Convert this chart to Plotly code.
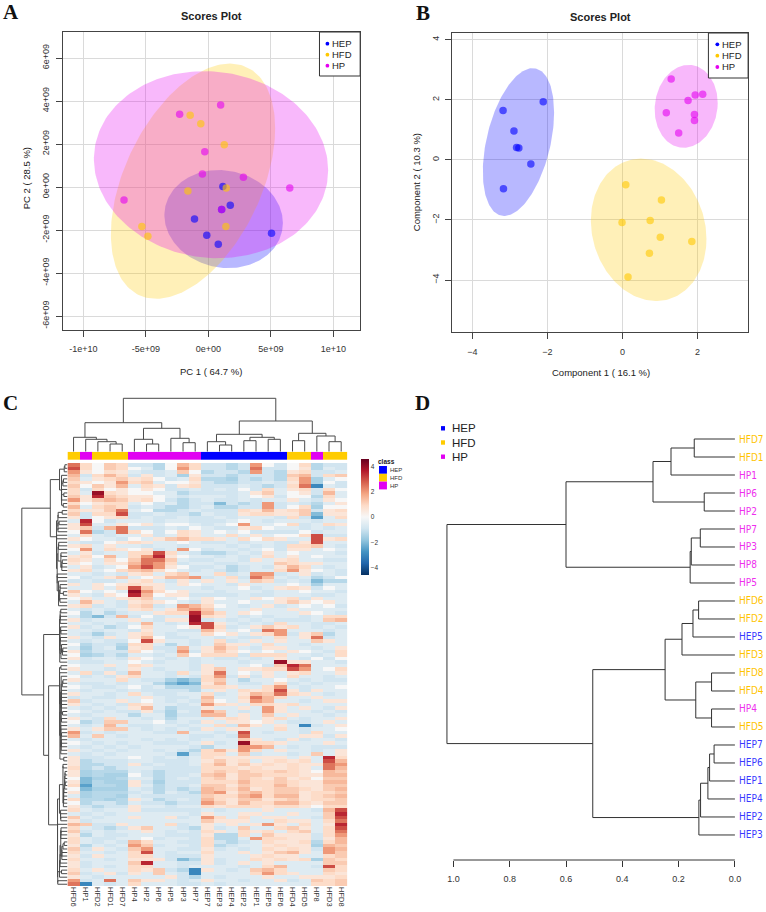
import numpy as np
import plotly.graph_objects as go

W, H = 766, 912
def fx(p): return p / W
def fy(p): return 1 - p / H

FONT = "Liberation Sans, Arial, Helvetica, sans-serif"
SERIF = "Liberation Serif, Times New Roman, serif"
NARROW = "Liberation Sans Narrow, Arial Narrow, DejaVu Sans Condensed, sans-serif"

# ---------------- data ----------------
groups = ["HEP", "HFD", "HP"]
group_rgb = {"HEP": (0, 0, 255), "HFD": (255, 200, 0), "HP": (229, 0, 240)}

# Panel A: PCA scores
pca_hep_x = [1.16e9, 1.75e9, 1.06e9, -1.11e9, -0.13e9, 0.79e9, 5.05e9]
pca_hep_y = [0.02e9, -0.85e9, -1.04e9, -1.49e9, -2.24e9, -2.66e9, -2.15e9]
pca_hfd_x = [-1.46e9, -0.61e9, 1.27e9, -1.64e9, 1.43e9, 1.40e9, -5.32e9, -4.84e9]
pca_hfd_y = [3.34e9, 2.94e9, 1.97e9, -0.19e9, -0.05e9, -1.84e9, -1.84e9, -2.29e9]
pca_hp_x = [-2.30e9, 0.98e9, -0.29e9, -0.48e9, 2.80e9, 6.51e9, -6.75e9, 1.06e9]
pca_hp_y = [3.39e9, 3.81e9, 1.64e9, 0.60e9, 0.45e9, -0.05e9, -0.60e9, -1.04e9]
# ellipse: centre x, centre y, half-width, half-height, correlation
pca_ellipses = {"HEP": (1.22e9, -1.49e9, 4.74e9, 2.28e9, -0.08),
                "HFD": (-1.23e9, 0.27e9, 6.57e9, 5.47e9, 0.45),
                "HP": (0.21e9, 1.04e9, 9.37e9, 4.35e9, -0.06)}
pca_xticks = [-1e10, -5e9, 0, 5e9, 1e10]
pca_xticktext = ["-1e+10", "-5e+09", "0e+00", "5e+09", "1e+10"]
pca_yticks = [-6e9, -4e9, -2e9, 0, 2e9, 4e9, 6e9]
pca_yticktext = ["-6e+09", "-4e+09", "-2e+09", "0e+00", "2e+09", "4e+09", "6e+09"]

# Panel B: PLS-DA scores
pls_hep_x = [-3.18, -2.11, -2.89, -2.82, -2.76, -2.44, -3.17]
pls_hep_y = [1.64, 1.93, 0.96, 0.41, 0.39, -0.14, -0.96]
pls_hfd_x = [0.09, 1.04, -0.01, 0.74, 1.01, 1.85, 0.72, 0.15]
pls_hfd_y = [-0.83, -1.34, -2.09, -2.02, -2.58, -2.72, -3.11, -3.90]
pls_hp_x = [1.30, 1.75, 1.94, 2.14, 1.17, 1.92, 1.92, 1.50]
pls_hp_y = [2.69, 1.97, 2.16, 2.18, 1.57, 1.51, 1.31, 0.89]
pls_ellipses = {"HEP": (-2.77, 0.59, 0.95, 2.46, 0.40),
                "HFD": (0.70, -2.33, 1.54, 2.37, -0.13),
                "HP": (1.70, 1.78, 0.84, 1.38, 0.08)}
pls_xticks = [-4, -2, 0, 2]
pls_yticks = [-4, -2, 0, 2, 4]

# Panel C: heatmap
heat_cols = ["HFD6", "HP1", "HFD2", "HFD1", "HFD7", "HP4", "HP2", "HP6", "HP5", "HP3", "HP7",
             "HEP7", "HEP3", "HEP4", "HEP2", "HEP1", "HEP5", "HEP6", "HFD4", "HFD5", "HP8", "HFD3", "HFD8"]
heat_rows = [
 [2.5,.9,0,1.2,.9,-.9,-.9,-1.3,0,1.5,.9,-.9,-.9,-1.3,-.9,2,0,-.9,0,.9,-1.3,-.9,-.9],
 [3,.9,0,1.2,.9,0,-.6,-1.3,0,2,.9,-.9,-.9,-1.3,-.9,2.5,-.9,-.9,0,.6,-1.3,-.6,-.9],
 [2,.6,0,.8,.6,-.6,-.9,-.9,-.6,1.2,0,-1.3,-.9,-.9,-1.3,2,-.9,-1.3,.6,.9,-.9,-.9,-.6],
 [1.5,-.9,.9,1.5,.9,-.9,.6,-.9,-.6,-1.5,.6,-.9,-.9,-1.3,-.9,-.9,-.9,-1.3,1.2,1.5,-.9,.9,1.2],
 [1.2,-.6,.6,.9,1.2,.6,.9,0,-.9,-.6,.9,-1.3,-1.3,-1.5,-.9,-1.3,-.9,-1.3,.9,2,-1.5,-.6,0],
 [.9,.6,0,.6,2,.9,1.2,-.6,0,0,.6,-.9,-1.3,-1.3,-.9,-.9,-.6,-.9,.6,2,-1.5,0,-.9],
 [1.2,0,1.2,.6,1.5,-.6,.9,.6,-.9,.6,.9,-.9,-.9,-.9,-.6,-.9,-1.3,-.9,.9,2.5,-3,-.6,-.9],
 [.9,-.9,.9,0,.6,0,.6,0,-.9,-.9,-.6,-.9,-.6,-.9,0,-.9,.9,-.6,.6,.9,-.9,.9,0],
 [.9,-.6,4,.9,.6,0,0,-.6,-.6,-1.3,-.9,-.9,-.9,-.9,-.6,.6,1.2,-.6,0,.6,-.9,1.5,-.6],
 [1.2,.6,3.5,1.2,.9,.6,.6,0,-.6,-.9,-.6,-.6,-.6,-.9,-.6,0,.6,-.9,0,0,-1.3,.9,-.6],
 [2,.6,1.2,1.5,1.2,.6,.9,0,-.9,-1.3,-.9,-.6,-.9,-.9,-.6,-.9,-.6,-.6,.6,-.6,-.9,.6,0],
 [.9,0,.6,.9,.9,-.6,0,-.9,-.6,-1.3,-.9,-.9,-2,-.9,-1.3,-.9,2,-.9,-.6,-.9,-1.3,-.6,.6],
 [1.5,-.6,.9,1.2,.9,-.9,-.6,-.9,-1.3,-1.3,-.9,-.6,-1.3,-1.3,-.9,-.9,2,-.9,0,.9,-1.5,0,0],
 [.9,.6,.6,1.2,2.5,-.6,0,-1.3,-1.3,-.9,-.6,-.9,-.9,-.9,.9,.6,1.5,.6,.9,1.2,-.9,.6,.9],
 [1.2,-.9,.9,.9,3,-.9,-.9,-.6,-.9,-.9,-1.3,-.6,-.9,-.9,.6,.9,.9,.6,.6,1.2,-2,.6,.6],
 [.6,-.9,0,.6,.9,-.9,-.6,-.9,-.9,-.6,-.9,-.9,-.6,-.9,-.6,-.6,-.6,-.9,.9,-.9,-2.5,-.6,.9],
 [-.6,3.5,0,-.9,-.6,-.6,-.6,-.9,-.6,-.6,-.9,-.9,-.9,-.6,0,-.6,-.9,-.6,-.6,-.6,-.9,-.6,-.6],
 [.6,3,-.6,-.6,.6,0,.6,-.6,0,0,-.6,-.9,-.6,0,2,-.6,-.6,0,.9,-.9,-.6,.9,.6],
 [.6,1.2,-.9,1.5,2.5,-.9,-.9,-.9,-.6,-.9,0,-.6,-.9,-.9,.6,.9,0,-.6,-.6,-.9,-.6,-.9,-.6],
 [0,2.5,-1.3,-.9,2.5,.9,0,-.9,0,.9,.6,-.6,0,-.6,0,-.9,-.9,-.9,-.9,0,-.9,-.6,-.6],
 [-.6,.9,-.6,-.9,-.6,-.6,.6,-.9,-.6,.9,.6,-.6,-.6,.9,-.6,.6,-.6,0,0,.9,3,-.9,-.9],
 [.6,0,-.6,-.6,-.9,0,-.6,.6,1.2,1.5,.9,.9,.6,-.6,.9,0,.9,.6,-.6,-.6,3,.6,.9],
 [-.6,-.9,-.9,0,.6,.9,.6,-.6,-.6,0,-.6,-.9,-.9,-.6,-.9,-.6,-.6,-.9,-.9,.6,3,-.6,-.6],
 [.6,.9,-.6,.6,-.6,-.6,-.9,-.6,-.6,-.9,-.6,-.6,-.6,-.9,-.6,-.9,-.6,-.9,.9,.9,1.2,-.6,-.9],
 [0,2,-.6,.9,.6,0,.6,-.9,-.6,2,0,-.9,-.6,-.6,-.9,-.6,0,-.9,.6,.6,-.6,0,-.6],
 [-.6,.6,-.9,-.6,-.6,.9,.9,3,.9,-.6,-.9,-1.3,-1.3,-.9,-.6,-.9,.6,-.6,0,-.6,-.6,-.6,-.9],
 [.6,.9,0,1.5,-.6,.9,2,3.5,.6,0,-.6,-.6,-.9,-.6,-.9,-.6,.9,-.6,.6,-.6,0,-.6,-.6],
 [.9,.6,-.6,.9,0,1.2,2.5,2.5,1.2,-.6,-.9,-.9,-.6,-.6,-.9,.6,-.6,.6,.9,-.6,-.6,-.9,-.9],
 [.6,0,-.6,.6,.6,1.5,2.5,2,.9,-.9,-.6,-.6,-.9,-.9,-.6,-.6,-.6,1.2,.9,.6,.6,-.6,-.6],
 [-.6,.6,-.9,-.6,0,2,3,2,.6,0,-.9,-.9,-.6,-1.3,-.9,-.6,-.9,.6,1.5,.9,-.6,-.9,-.6],
 [.6,.9,-.6,0,.9,1.2,1.5,.9,0,-.6,-.9,-.6,-.9,-1.3,-.9,-.6,-.6,.9,2,.6,0,-.6,-.9],
 [-.6,-.6,-.9,-.6,-.9,.6,.9,-.6,.9,1.2,-.6,-.6,.9,-.9,-.6,2,2,-.9,-.6,.6,-.9,-.6,-.9],
 [0,-.9,-.6,.6,1.2,-.6,0,.6,1.5,1.5,2,-.9,-.6,.9,-.9,2.5,1.5,-.6,-.9,-.6,-1.3,-.9,0],
 [-.9,-.6,-.9,-.9,-.6,.6,.9,-.6,-.9,.6,-.6,.6,-.6,.6,-.6,1.2,.9,-.9,-.6,-.9,-2,-1.3,-1.3],
 [.6,-.6,.6,0,.6,.9,.6,.6,-.6,.6,0,-.6,-.6,-.9,.6,-.6,-.6,-.6,0,-.6,-1.5,-.6,-.6],
 [-.6,-.6,.6,-.6,.9,3,1.2,.6,-.6,-.6,-.6,-.9,-.6,-.6,0,-.9,-.6,.6,.9,.6,-.9,0,-.6],
 [1.2,0,-.6,0,-.6,4,2,.9,0,.6,-.6,-.6,-.9,-.6,-.6,-.6,-.9,-.6,-.6,0,-.6,-.6,-.9],
 [.6,-.6,-.9,.6,0,3.5,1.5,0,.6,.6,-.9,-.9,-.9,-.9,-.6,-.9,-.9,-.6,-.6,-.6,-.9,-.9,-.6],
 [0,.6,-.6,-.6,.6,.9,1.2,-.6,-.6,0,-.6,.6,0,-.6,-.6,.6,0,.6,.9,-.9,.6,-.6,-.6],
 [-.6,1.5,.6,-.6,-.9,.6,.9,.6,0,-.6,-.9,.6,-.6,-.6,0,-.6,-.6,.6,1.2,.6,0,.6,-.6],
 [.6,.9,-.9,-.6,-.9,.9,1.2,-.9,-.6,2,1.5,.9,0,-.6,-.9,-.6,.6,-.9,-.6,0,-.6,0,-.9],
 [-.6,-.9,-.6,-.9,-.6,.6,.9,-.6,.6,1.5,2,1.2,-.6,-.6,-.6,.6,-.6,-.6,.6,-.6,-.6,-.6,-.6],
 [0,-1.3,-.6,-1.3,-.9,-.6,-.6,.6,.9,.9,3.5,1.5,.9,-.6,.6,0,-.6,-.6,-.6,.6,0,-.6,-.9],
 [-.6,-1.3,-2,-.9,1.5,-.9,0,-.9,-.6,-.6,4,.9,.6,-.6,-.9,-.6,-.9,-.6,-.6,-.9,-.6,.9,.9],
 [.6,-.9,-.6,-.6,-.6,.6,-.6,-.9,.6,.6,4,-.9,-.6,-.9,-.6,-.9,-.6,-.9,-.9,-.9,-.6,1.2,1.5],
 [-.6,-.6,-.9,-.6,-.9,-.6,1.5,-.6,-.9,-.6,3.5,3,.6,-.6,-.9,-.6,-.9,.9,-.6,-.6,-.9,-.9,-.6],
 [.6,-.9,-.6,-1.3,-.9,0,.9,-.6,-.6,0,.6,3,.9,-.9,-.6,.6,1.2,.6,.9,-.6,-.9,-.6,-.9],
 [-.6,-.6,-.9,-.6,-.6,-.9,.6,-.6,-.6,-.9,-.9,1.5,.6,-.6,0,-.9,2.5,2,-.6,-.6,-.6,-.9,-.6],
 [-.6,-.9,-1.5,-.9,-.6,.6,.9,-.6,-.9,-.6,-.6,.9,0,.6,-.6,.6,.9,2,-.9,.6,1.2,-1.3,-.6],
 [.6,-.6,-.9,.6,-.6,.6,1.5,0,-.9,-.9,-.6,-.6,-.9,-.6,-.9,-.9,-.6,.9,-.6,.6,2.5,-.9,-.6],
 [-.6,-.9,-.6,-.9,-.9,0,3,.6,-.6,-.6,-.9,-.6,.9,-.9,-.6,.6,-.6,.6,-.6,-.6,1.2,.6,-.6],
 [0,-1.3,-.9,-.9,-1.3,.9,.9,-.6,-1.3,-.6,-.9,-.6,1.2,.6,.6,-.6,.9,-.6,-.6,-.9,-.6,-.6,-.6],
 [-.6,-1.5,-.9,-.6,-1.5,.6,.9,-.9,-.9,1.5,-.6,.6,1.5,.9,-.6,-.9,.6,.6,-.6,-.6,-.9,-.6,.6],
 [.6,-1.3,-.9,-.9,-.9,.9,0,-.6,-.9,2,-.9,.6,1.2,.6,0,-.6,0,-.6,.6,0,-.6,-.9,.9],
 [0,-1.5,-1.3,-.9,-1.3,-.6,-.6,-.9,-.6,1.2,0,.9,.9,.9,-.9,.9,.9,.9,-.6,-.6,-.9,-.6,.9],
 [.6,-.9,-.6,-.6,-.9,.6,0,-.6,-.9,-.6,-.9,-.6,-.9,-.9,-.6,-.9,-.6,.6,-.6,-.9,0,-.9,0],
 [-.6,-.9,-.9,-.6,-.6,0,-.6,-.9,-.6,-.6,-.9,-.6,-.6,-.6,-.9,-.6,-.6,4,.6,.6,-.6,-.6,-.9],
 [0,-.6,-.6,.6,-.6,.9,.6,-.6,-.6,-.6,-.9,.6,-.6,-.6,-.6,0,-.9,1.2,3.5,2.5,-.6,-.6,-.6],
 [.6,-.6,-.6,-.9,-.6,.6,-.6,-.9,-.6,-.6,-.9,.6,1.2,-.6,.6,.6,.9,.9,3,2,-.6,0,.9],
 [-.6,.9,-.9,.6,-.9,1.5,-.6,-.6,-.9,.9,-.6,.6,2.5,-.6,0,-.6,.6,-.6,.6,.9,-.6,-.6,.6],
 [0,-.9,-.6,-.9,.6,.9,-.6,-.6,-.9,-.6,-.9,.9,2,-.9,.6,-.9,.6,-.6,.9,-.6,-.6,-.9,-.6],
 [.6,-.6,-.6,-.6,.9,-.6,-.9,-.9,-1.5,-2,-1.5,.9,1.2,-.6,-1.3,-.6,-.6,0,-.6,-.9,-.6,-.9,-.9],
 [-.6,-.9,-.9,-.6,-.9,-.6,-.6,-1.3,-2,-2.5,-2,.6,1.5,-.6,-.9,-.9,-.6,.9,-.9,-.6,-.9,-.6,-.6],
 [0,-.6,-.9,-.9,-.6,0,-.9,-.6,-1.3,-1.3,-1.3,.9,.9,.6,-.6,-.6,.9,2,-.6,-.9,-.6,-.6,0],
 [-.6,-.9,-.6,-.6,-.9,-.6,-.9,-.9,-.9,-.9,-1.3,-.6,.6,-.6,.9,.6,.9,3,.6,-.9,.6,-.6,-.6],
 [.6,-.6,-.6,-.9,-.6,.9,-.6,-.9,-.9,-.6,-.6,.9,-.9,-.6,.6,1.5,1.2,2.5,.9,.6,-.6,-.9,-.6],
 [-.9,-.6,-.9,-.9,-.6,-.6,.6,-.6,-.9,-.9,-.6,1.5,-.6,-.6,.9,2.5,1.5,.9,-.6,-.6,.6,-.6,-.6],
 [1.2,-.9,-.6,-.6,.6,-.6,0,-.6,-.9,-.6,-.9,1.2,0,-.6,.6,2,1.5,-.6,-.6,-.9,-.6,.6,.6],
 [.6,-.6,-.9,-.6,-.9,.9,.6,-.6,-.6,-.9,-.6,2,.9,.6,-.6,.9,.9,.6,.9,-.6,-.6,-.6,-.6],
 [-.6,-.9,-.6,-.9,-.6,.6,1.5,-.6,-1.3,-.9,-.9,.6,-.6,-.6,.6,-.6,2,.6,-.6,.6,-.6,-.9,.6],
 [0,-.6,-.9,-.6,-.9,-.9,.6,-.9,-1.5,-.6,-.9,2,1.2,-.6,-.9,-.6,2,.6,-.6,-.6,-.9,-.6,-.9],
 [-.6,-.9,-.6,-.6,-.6,-1.3,-.6,-.6,-1.5,-.9,-.9,1.5,1.5,-.6,.6,-.6,1.2,-.6,.6,-.6,-.6,-.9,-.6],
 [.6,-.6,-.9,.9,-.6,-.6,-.9,-.6,-1.3,-.6,-.6,-.6,.6,.9,.6,-.6,.6,.9,-.6,-.9,-.6,-.6,.6],
 [0,-1.3,-.9,1.2,1.2,-.6,-.6,0,-.9,-.6,-.9,.6,-.6,.6,.6,0,.6,-.6,-.9,-.9,-.6,.6,-.6],
 [-.6,-.9,-.6,1.5,-.6,-.9,-.9,-.6,-.6,-.9,-.6,-.6,.9,-.9,1.5,.6,-.6,.6,-.6,-3,-.9,-.6,.6],
 [.6,-.6,.6,1.2,1.2,-.6,-.9,-.6,-.9,-.6,-.9,.6,-.6,.6,.6,-.6,-.6,.9,-.6,-.9,-.6,-.6,0],
 [2,-.9,-.6,-.9,-.6,-.6,-.6,-.9,-.9,1.5,-.6,-.6,-.9,-.6,3,-.6,-.9,-.6,-.6,-.9,.9,-.6,-.6],
 [1.5,-.6,1.2,-.6,-.9,-.6,-.6,-.6,-.6,-.6,-.9,-.9,-.6,-.9,2.5,-.6,-.6,-.6,-.6,.6,.6,-.9,.6],
 [-.6,-.9,-.6,-.6,-.6,-.6,-.9,-.6,-.9,-.6,-.9,-.6,-.6,-.6,1.2,.6,-.6,-.9,.6,-.9,-.6,-.6,-.9],
 [0,-.6,-.9,-.6,-.9,-.6,-.6,-.9,-.9,-.9,-.6,.6,-.9,-.6,4,.9,.9,.6,-.6,-.6,-.6,.6,-.6],
 [-.6,-.9,-.6,-.9,-.6,-.9,-.6,-.6,-.6,-.6,-.9,-1.3,-.6,-.6,2,2,1.5,-.6,-.9,-.6,-.9,-.9,-.9],
 [.6,-.6,-.9,-.6,-.9,-.6,-.6,-.9,-.6,-.9,-1.3,.9,1.5,.6,2,.9,-.6,.6,-.6,-.6,-.9,-.6,.6],
 [-.6,-.9,-.6,-.9,-.6,-.6,-.6,-.6,-.9,-2.5,-.9,.9,.9,-.6,1.2,-.9,-.6,-.6,-.9,-.6,1.2,-.6,.6],
 [.6,-.9,-.9,-.6,-.6,0,-.6,-.9,-.6,-.9,-.6,.9,.6,.6,.6,.6,.6,.6,-.6,.6,-.6,3.5,.9],
 [.6,-1.3,-.9,-.9,-.9,-.6,-.6,-.9,-.9,-.9,-.6,.6,1.2,.6,.9,-.6,.6,.9,.6,.9,-.6,3,1.5],
 [.6,-1.3,-1.3,-.9,-.9,.6,-.9,-.6,-.9,-.9,-.6,.9,1.5,.6,1.2,.6,.9,.6,.9,.6,.6,2.5,2],
 [.9,-1.3,-.9,-1.3,-.9,-.6,-.6,-.9,-.9,-.9,-.9,.9,.9,.9,.6,.9,.6,.6,.9,.6,-.6,2.5,1.5],
 [.6,-1.5,-1.3,-1.3,-1.3,-.6,-.9,-1.3,-.9,-.9,-.9,.9,1.2,.9,1.2,.9,.9,1.2,.9,.6,0,1.5,1.2],
 [.6,-1.5,-1.3,-1.5,-1.5,0,-.9,-1.3,-.9,-.9,-.6,1.2,1.5,.6,1.2,1.2,.9,.9,.9,.6,.6,1.5,1.5],
 [0,-2,-1.5,-1.5,-1.3,-.6,-.6,-1.3,-.9,-.6,-.9,.9,1.2,.6,1.2,.9,.6,1.2,.6,.9,0,1.2,1.2],
 [.6,-2,-1.3,-1.5,-1.5,.6,-.9,-1.5,-.9,-.9,-.9,.9,.9,.9,1.5,.9,.9,1.2,.9,.6,.6,1.5,1.5],
 [.9,-2.5,-1.3,-1.3,-1.5,.6,-.6,-1.3,-.9,-.9,-.6,1.2,1.2,.6,1.2,.9,.9,1.5,.9,.6,.6,1.2,1.2],
 [0,-2,-1.5,-1.5,-1.5,-.6,-.9,-1.3,-.9,-1.3,-.9,1.5,1.2,.9,1.5,.6,.9,1.2,1.2,.9,.6,1.2,1.5],
 [.6,-1.5,-1.3,-1.3,-1.3,-.9,-.6,-1.3,-.6,-.9,-1.3,1.5,2,.6,1.2,1.5,.9,1.2,1.2,.6,.9,.9,1.2],
 [-.6,-1.5,-1.3,-1.3,-1.5,-.6,-.9,-.9,-.9,-.9,-.9,1.2,.9,.9,1.5,2,.9,1.5,1.5,.6,.9,1.2,1.5],
 [.9,-1.3,-1.3,-1.5,-1.3,.6,-.6,-1.3,-.9,-.6,-.9,1.5,.9,.6,1.2,1.2,.6,.9,1.2,.6,.9,.9,1.2],
 [0,-1.3,-.9,-.9,-1.3,-.6,-.9,-.9,-1.3,-.9,-.9,2,1.2,.6,1.5,.9,.9,1.5,1.5,.9,.6,1.2,1.2],
 [.6,-.9,-1.3,-.9,-.9,.6,-.6,-.6,-.9,-.6,-.6,.9,.6,.9,.9,.9,.6,.9,.9,.6,0,.9,.9],
 [.9,-.6,-.9,-.6,-.6,.6,-.9,-.9,-.9,-.9,-.9,-.6,-.9,-.6,-.6,-.6,.6,-.6,-.6,-.6,-.9,1.5,3],
 [-.6,-.9,-.6,-.9,-.6,-.6,-.6,-.6,-.6,-.6,-.9,.6,-.6,-.6,.6,.6,-.6,-.6,.6,-.6,-.6,1.2,3.5],
 [1.2,-.6,-.9,-.6,-.6,.6,-.6,-.6,.6,-.9,-.6,2,.9,-.6,.9,-.6,.6,.6,-.6,-.6,-.9,1.2,3],
 [.6,-.9,-.6,-.6,-.6,-.6,-.6,-.6,-.6,-.6,-.6,1.2,.6,.6,.6,-.6,-.6,.9,.6,.6,-.6,.9,2.5],
 [1.5,1.2,-.9,-.9,.6,-.6,-.6,-.6,.9,-.9,-.6,.6,-.6,.6,-.6,.6,2,.6,-.6,.9,-.6,.6,3.5],
 [.9,-.6,-.9,-1.3,-.9,.6,1.2,-.6,-.6,-.9,-1.3,.6,-.9,-.6,1.2,-.6,-.6,.9,1.2,.6,-.6,.9,3],
 [1.2,-.9,-.6,-.9,-.6,-.6,.6,-.6,-.9,-.6,-.9,.9,.6,-.6,.9,.6,.9,-.6,.9,1.2,-.6,.9,2.5],
 [.6,-1.3,-.6,-.9,-.9,-.6,-.6,-.6,-.9,-.9,-.9,.6,-1.3,-1.3,.9,-.6,1.2,.6,.6,.6,-.9,.9,2],
 [.9,-.6,-.9,-.9,-.6,-.6,0,-.9,-.6,-.6,-.9,.9,-1.3,-1.3,-.6,2,.9,.9,.6,.6,-.9,.6,1.5],
 [.9,-.6,-.9,-.6,-.9,1.5,.9,-.6,-.6,-.9,-.9,.9,-.9,-1.3,-.9,-.6,.9,.6,.6,.9,-1.3,.9,1.5],
 [.6,-1.3,-.6,-.9,-.6,2,1.2,-.9,-.6,-.6,-.9,.9,-1.3,-.9,-.6,-.6,.6,.9,.6,.6,-1.5,1.5,1.2],
 [1.2,-.9,.6,-.6,-.9,1.2,2,-.6,-.6,-.9,-.9,.6,-.9,-.6,-.9,-.6,.9,.6,.9,.6,-.9,2,1.5],
 [.9,-.6,-.6,-.9,-.6,.9,3,-.6,-.9,-.6,-.6,.9,-.6,-.6,.6,-.6,.6,1.2,1.5,.6,-.6,2,1.2],
 [.6,-.9,.6,-.6,-.6,.9,.9,-.6,-.9,-.9,-.9,.6,-.6,-.6,-.6,.6,.9,.6,.6,-.6,-.6,.9,1.2],
 [.9,-.6,-.6,-.9,-.6,.6,.6,.6,-.9,-2,-1.3,.6,-.9,-.6,-.6,.9,.6,.9,.6,.9,-1.5,1.2,.9],
 [.6,-.9,-.6,-.6,-.6,1.2,3.5,-.6,-.6,-.9,-.9,.6,-.9,-.6,.6,-.6,.6,-.6,-.6,-.6,-.6,1.2,1.2],
 [.6,-.9,-.6,-.9,-.6,.9,.9,-.6,-.6,-.9,-.6,-.6,-.6,-.6,-.9,-.6,.9,1.5,-.6,-.6,-.9,3,.9],
 [.9,-.6,.6,-.6,-.6,.9,.6,1.2,-.9,-1.3,-3,.6,-.6,-.9,-.6,1.2,1.5,.9,-.6,-.6,-.6,1.2,.9],
 [1.2,-.9,-.6,.6,-.9,.6,-.6,1.2,-.6,-.9,-3,-.6,-.6,-.6,-.6,.9,2,.9,.6,-.6,-.6,.9,.6],
 [.6,-.6,-.9,-.6,-.6,-.6,-.6,-.6,.6,-.9,-1.3,-.6,-.9,-.6,-.6,-.6,.6,-.6,-.6,.6,.6,.6,.9],
 [2,-.9,-.6,2.5,-.6,1.2,.6,.6,-.6,-.9,-.6,.6,-.6,-.6,-.9,-.6,-.6,.6,-.9,-.6,1.2,.9,1.2],
 [2.5,-3,-.6,-.9,-.6,.9,-.6,-.6,-.6,-.9,-.9,-.6,-.9,-.6,-.6,-.6,-.6,-.6,-.6,-.6,.9,.9,1.2],
]
heat_ticks = [-4, -2, 0, 2, 4]

# column dendrogram (height, left, right); heights
col_tree = (53.4,
    (29.0,
        (14.4, "HFD6", (12.4, "HP1", (10.0, "HFD2", (7.7, "HFD1", "HFD7")))),
        (23.4, (12.4, "HP4", (7.7, "HP2", "HP6")), (13.4, "HP5", (9.0, "HP3", "HP7")))),
    (30.7,
        (17.4, (10.0, "HEP7", (6.7, "HEP3", "HEP4")),
               (14.4, (11.0, "HEP2", "HEP1"), (12.4, "HEP5", "HEP6"))),
        (18.4, (11.0, "HFD4", "HFD5"), (15.7, "HP8", (10.0, "HFD3", "HFD8")))))
# row dendrogram: main splits, each ("grp", first_row, last_row, height)
row_tree = (46.0,
    (17.3, ("grp", 0, 12, 8.0), ("grp", 13, 40, 11.0)),
    (24.0, ("grp", 41, 56, 8.0), (19.0, ("grp", 57, 84, 8.0), ("grp", 85, 119, 10.0))))

# Panel D: sample dendrogram
d_tree = (1.023,
    (0.600,
        (0.291, (0.227, (0.1445, "HFD7", "HFD1"), "HP1"), (0.109, "HP6", "HP2")),
        (0.159, (0.155, (0.123, "HP7", "HP3"), "HP8"), "HP5")),
    (0.505,
        (0.248,
            (0.188, (0.149, (0.129, "HFD6", "HFD2"), "HEP5"), "HFD3"),
            (0.139, (0.083, "HFD8", "HFD4"), (0.083, "HP4", "HFD5"))),
        (0.128, (0.122, (0.096, (0.090, (0.074, "HEP7", "HEP6"), "HEP1"), "HEP4"), "HEP2"), "HEP3")))
d_ticks = [1.0, 0.8, 0.6, 0.4, 0.2, 0.0]

# ---------------- helpers ----------------
def rgba(g, a):
    r, gg, b = group_rgb[g]
    return f"rgba({r},{gg},{b},{a})"

def cls_of(name):
    if name.startswith("HEP"):
        return "HEP"
    if name.startswith("HFD"):
        return "HFD"
    return "HP"

def ellipse_xy(p, n=200):
    cx, cy, sx, sy, rho = p
    t = np.linspace(0, 2 * np.pi, n)
    x = cx + sx * np.cos(t)
    y = cy + sy * (rho * np.cos(t) + np.sqrt(1 - rho ** 2) * np.sin(t))
    return x, y

heat = np.array(heat_rows, dtype=float)

def adj_cluster(start, end, target):
    cl = [dict(pos=float(i), h=0.0, segs=[], mem=[i]) for i in range(start, end + 1)]
    while len(cl) > 1:
        best = None
        for k in range(len(cl) - 1):
            d = np.linalg.norm(heat[cl[k]["mem"]].mean(0) - heat[cl[k + 1]["mem"]].mean(0))
            if best is None or d < best[0]:
                best = (d, k)
        d, k = best
        a, b = cl[k], cl[k + 1]
        h = max(d, a["h"], b["h"])
        seg = [(a["h"], a["pos"]), (h, a["pos"]), (h, b["pos"]), (b["h"], b["pos"])]
        cl[k:k + 2] = [dict(pos=(a["pos"] + b["pos"]) / 2, h=h, segs=a["segs"] + b["segs"] + [seg],
                            mem=a["mem"] + b["mem"])]
    c = cl[0]
    s = target / c["h"]
    return c["pos"], target, [[(hh * s, p) for hh, p in seg] for seg in c["segs"]]

def layout_tree(node, pos_of):
    if isinstance(node, str):
        return float(pos_of[node]), 0.0, []
    if node[0] == "grp":
        return adj_cluster(node[1], node[2], node[3])
    h, a, b = node
    pa, ha, sa = layout_tree(a, pos_of)
    pb, hb, sb = layout_tree(b, pos_of)
    return (pa + pb) / 2, h, sa + sb + [[(ha, pa), (h, pa), (h, pb), (hb, pb)]]

def leaves(node):
    if isinstance(node, str):
        return [node]
    return leaves(node[1]) + leaves(node[2])

def seg_xy(segs, swap):
    xs, ys = [], []
    for seg in segs:
        for hh, p in seg:
            if swap:
                xs.append(p); ys.append(hh)
            else:
                xs.append(hh); ys.append(p)
        xs.append(None); ys.append(None)
    return xs, ys

fig = go.Figure()
annotations, shapes = [], []

def ann(x, y, text, size, color="#222", family=FONT, xanchor="center", yanchor="middle", angle=0, bold=False):
    if bold:
        text = f"<b>{text}</b>"
    annotations.append(dict(x=fx(x), y=fy(y), xref="paper", yref="paper", text=text, showarrow=False,
                            xanchor=xanchor, yanchor=yanchor, textangle=angle, borderpad=0,
                            font=dict(family=family, size=size, color=color)))

# ---------------- Panel A & B ----------------
score_sets = [
    ("x", "y", pca_ellipses, {"HEP": (pca_hep_x, pca_hep_y), "HFD": (pca_hfd_x, pca_hfd_y), "HP": (pca_hp_x, pca_hp_y)}),
    ("x2", "y2", pls_ellipses, {"HEP": (pls_hep_x, pls_hep_y), "HFD": (pls_hfd_x, pls_hfd_y), "HP": (pls_hp_x, pls_hp_y)}),
]
for xa, ya, ells, pts in score_sets:
    for g in groups:
        ex, ey = ellipse_xy(ells[g])
        fig.add_trace(go.Scatter(x=ex, y=ey, mode="lines", fill="toself", fillcolor=rgba(g, 0.28),
                                 line=dict(width=0), xaxis=xa, yaxis=ya, hoverinfo="skip"))
    for g in groups:
        fig.add_trace(go.Scatter(x=pts[g][0], y=pts[g][1], mode="markers",
                                 marker=dict(size=7.5, color=rgba(g, 0.6), line=dict(width=0)),
                                 xaxis=xa, yaxis=ya, hoverinfo="skip"))

def frame_axis(**kw):
    d = dict(showline=True, mirror=True, linecolor="#444", linewidth=1, ticks="outside", ticklen=6,
             tickcolor="#444", showgrid=True, gridcolor="#dadada", gridwidth=1, zeroline=False,
             tickfont=dict(family=FONT, size=9, color="#333"))
    d.update(kw)
    return d

# score legends
def score_legend(box, dot_x, text_x, ys):
    x0, y0, x1, y1 = box
    shapes.append(dict(type="rect", xref="paper", yref="paper", x0=fx(x0), x1=fx(x1), y0=fy(y1), y1=fy(y0),
                       line=dict(color="#333", width=1), fillcolor="white", layer="above"))
    for g, yy in zip(groups, ys):
        r = 1.9
        shapes.append(dict(type="circle", xref="paper", yref="paper", x0=fx(dot_x - r), x1=fx(dot_x + r),
                           y0=fy(yy + r), y1=fy(yy - r), line=dict(width=0),
                           fillcolor="rgb(%d,%d,%d)" % group_rgb[g], layer="above"))
        ann(text_x, yy, g, 9.5, xanchor="left")

score_legend((322, 32, 363, 76), 330, 334, [43.7, 54.7, 65.7])
score_legend((714, 33, 754, 78), 723, 727, [44.3, 55.7, 67.0])

ann(213, 16, "Scores Plot", 11, bold=True)
ann(605.5, 17.5, "Scores Plot", 11, bold=True)
ann(213, 371, "PC 1 ( 64.7 %)", 9.5)
ann(26.5, 178, "PC 2 ( 28.5 %)", 9.5, angle=-90)
ann(605.5, 372.5, "Component 1 ( 16.1 %)", 9.5)
ann(419.5, 182, "Component 2 ( 10.3 %)", 9.5, angle=-90)
for L, x, y in [("A", 11, 12), ("B", 426, 13), ("C", 11, 403), ("D", 426, 403)]:
    ann(x, y, L, 21, color="#111", family=SERIF, bold=True)

# ---------------- Panel C ----------------
rdbu = ["#053061", "#2166AC", "#4393C3", "#92C5DE", "#D1E5F0", "#F7F7F7",
        "#FDDBC7", "#F4A582", "#D6604D", "#B2182B", "#67001F"]
rdbu_scale = [[i / 10, c] for i, c in enumerate(rdbu)]
nrow, ncol = heat.shape
fig.add_trace(go.Heatmap(z=heat, x=list(range(ncol)), y=list(range(nrow)), colorscale=rdbu_scale,
                         zmin=-4.6, zmax=4.6, xaxis="x3", yaxis="y3", hoverinfo="skip",
                         colorbar=dict(x=fx(364), xanchor="left", xpad=0, y=fy(517), yanchor="middle", ypad=0,
                                       len=116, lenmode="pixels", thickness=8, thicknessmode="pixels",
                                       tickvals=heat_ticks, ticks="", outlinewidth=0,
                                       tickfont=dict(family=FONT, size=6.5, color="#333"))))

class_colors = {"HEP": "#0000FF", "HFD": "#FFCC00", "HP": "#E100F2"}
cls_idx = [groups.index(cls_of(c)) for c in heat_cols]
bar_scale = [[0, class_colors["HEP"]], [1 / 3, class_colors["HEP"]], [1 / 3, class_colors["HFD"]],
             [2 / 3, class_colors["HFD"]], [2 / 3, class_colors["HP"]], [1, class_colors["HP"]]]
fig.add_trace(go.Heatmap(z=[cls_idx], x=list(range(ncol)), y=[0], colorscale=bar_scale, zmin=0, zmax=2,
                         showscale=False, xaxis="x4", yaxis="y4", hoverinfo="skip"))

col_pos = {c: i for i, c in enumerate(heat_cols)}
_, _, csegs = layout_tree(col_tree, col_pos)
cx_, cy_ = seg_xy(csegs, swap=True)
fig.add_trace(go.Scatter(x=cx_, y=cy_, mode="lines", line=dict(color="#4a4a4a", width=1),
                         xaxis="x5", yaxis="y5", hoverinfo="skip"))
_, _, rsegs = layout_tree(row_tree, {})
rx_, ry_ = seg_xy(rsegs, swap=False)
fig.add_trace(go.Scatter(x=rx_, y=ry_, mode="lines", line=dict(color="#4a4a4a", width=1),
                         xaxis="x6", yaxis="y6", hoverinfo="skip"))

# class legend
ann(380, 462, "class", 6.5, color="#222", xanchor="left", bold=True)
for i, g in enumerate(groups):
    y0 = 466 + i * 7.8
    shapes.append(dict(type="rect", xref="paper", yref="paper", x0=fx(382), x1=fx(390), y0=fy(y0 + 7.8),
                       y1=fy(y0), line=dict(width=0), fillcolor=class_colors[g]))
    ann(392.5, y0 + 3.9, g, 6, color="#333", xanchor="left")

# ---------------- Panel D ----------------
d_order = leaves(d_tree)
d_pos = {c: i for i, c in enumerate(d_order)}
_, _, dsegs = layout_tree(d_tree, d_pos)
dx_, dy_ = seg_xy(dsegs, swap=False)
fig.add_trace(go.Scatter(x=dx_, y=dy_, mode="lines", line=dict(color="#333", width=1),
                         xaxis="x7", yaxis="y7", hoverinfo="skip"))
label_colors = {"HEP": "#3a3aff", "HFD": "#ffc400", "HP": "#ee30ee"}
for name in d_order:
    annotations.append(dict(x=0, y=d_pos[name], xref="x7", yref="y7", text=name, showarrow=False,
                            xanchor="left", yanchor="middle", xshift=3, borderpad=0,
                            font=dict(family=NARROW, size=10, color=label_colors[cls_of(name)])))
for i, g in enumerate(groups):
    yy = 428.3 + i * 14.2
    shapes.append(dict(type="rect", xref="paper", yref="paper", x0=fx(444.5), x1=fx(448.5), y0=fy(yy + 2.2),
                       y1=fy(yy - 2.2), line=dict(width=0), fillcolor=class_colors[g]))
    ann(454.5, yy, g, 11.5, color="#222", xanchor="left")
shapes.append(dict(type="line", xref="x7", yref="paper", x0=1.0, x1=0.0, y0=fy(860), y1=fy(860),
                   line=dict(color="#333", width=1)))

# ---------------- layout ----------------
hid = dict(showgrid=False, zeroline=False, showticklabels=False, ticks="", showline=False)
heat_dom_x = [fx(68), fx(350)]
heat_dom_y = [fy(886), fy(463)]
fig.update_layout(
    width=W, height=H, margin=dict(l=0, r=0, t=0, b=0), paper_bgcolor="white", plot_bgcolor="white",
    showlegend=False, hovermode=False,
    xaxis=frame_axis(domain=[fx(63), fx(363)], range=[-1.167e10, 1.214e10], tickvals=pca_xticks,
                     ticktext=pca_xticktext, anchor="y", ticklabelstandoff=4),
    yaxis=frame_axis(domain=[fy(330), fy(32)], range=[-6.65e9, 7.21e9], tickvals=pca_yticks,
                     ticktext=pca_yticktext, tickangle=-90, anchor="x", ticklabelstandoff=3),
    xaxis2=frame_axis(domain=[fx(456), fx(754)], range=[-4.53, 3.35], tickvals=pls_xticks, anchor="y2",
                      ticklabelstandoff=5),
    yaxis2=frame_axis(domain=[fy(332), fy(33)], range=[-5.73, 4.22], tickvals=pls_yticks, tickangle=-90,
                      anchor="x2", ticklabelstandoff=3),
    xaxis3=dict(domain=heat_dom_x, range=[-0.5, ncol - 0.5], tickvals=list(range(ncol)), ticktext=heat_cols,
                tickangle=90, ticks="", showgrid=False, zeroline=False, showline=False, anchor="y3",
                tickfont=dict(family=FONT, size=7.5, color="#333"), ticklabelstandoff=0),
    yaxis3=dict(domain=heat_dom_y, range=[nrow - 0.5, -0.5], anchor="x3", **hid),
    xaxis4=dict(domain=heat_dom_x, range=[-0.5, ncol - 0.5], anchor="y4", **hid),
    yaxis4=dict(domain=[fy(460), fy(451.7)], range=[-0.5, 0.5], anchor="x4", **hid),
    xaxis5=dict(domain=heat_dom_x, range=[-0.5, ncol - 0.5], anchor="y5", **hid),
    yaxis5=dict(domain=[fy(451.7), fy(396)], range=[0, 55.7], anchor="x5", **hid),
    xaxis6=dict(domain=[fx(20), fx(68)], range=[48, 0], anchor="y6", **hid),
    yaxis6=dict(domain=heat_dom_y, range=[nrow - 0.5, -0.5], anchor="x6", **hid),
    xaxis7=dict(domain=[fx(448), fx(741)], range=[1.0317, -0.001], tickvals=d_ticks,
                ticktext=[f"{v:.1f}" for v in d_ticks], ticks="outside", ticklen=6, tickcolor="#333",
                showgrid=False, zeroline=False, showline=False, anchor="y7", ticklabelstandoff=4,
                tickfont=dict(family=FONT, size=9, color="#333")),
    yaxis7=dict(domain=[fy(860), fy(430)], range=[23.39, -0.5], anchor="x7", **hid),
    annotations=annotations, shapes=shapes,
)
fig.write_html("out.html", config={"displayModeBar": False, "staticPlot": True},
               post_script="document.body.style.margin='0';document.body.style.padding='0';")
